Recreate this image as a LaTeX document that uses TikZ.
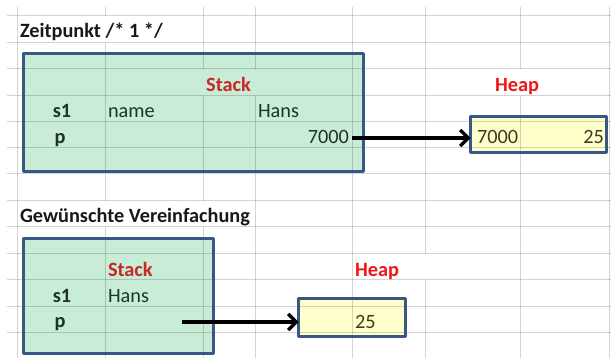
\documentclass[tikz,border=0pt]{standalone}
\usepackage{fontspec}
\setmainfont{Carlito}
\usetikzlibrary{arrows.meta}
\definecolor{gfill}{RGB}{200,236,214}
\definecolor{yfill}{RGB}{255,255,204}
\definecolor{bord}{RGB}{56,87,135}
\definecolor{redA}{RGB}{200,40,40}
\definecolor{redB}{RGB}{238,22,22}
\definecolor{gtext}{RGB}{30,52,40}
\definecolor{ytext}{RGB}{60,60,28}
\newcommand{\cellfont}{\fontsize{20.3}{24}\selectfont}
\tikzset{
  x=1pt, y=-1pt,
  every node/.style={inner sep=0pt, outer sep=0pt, font=\cellfont},
  boxfill/.style={fill=#1, draw=none, minimum width=\bw, minimum height=\bh},
  gridl/.style={black, opacity=0.17, line width=1pt},
  border/.style={draw=bord, line width=3pt, line join=round},
  title/.style={font=\cellfont\bfseries, text=black!90, anchor=base west},
  redtitleA/.style={font=\cellfont\bfseries, text=redA, anchor=base},
  redtitleB/.style={font=\cellfont\bfseries, text=redB, anchor=base},
  cell/.style={text=gtext, anchor=base west},
  hcell/.style={text=ytext, anchor=base west},
  bcell/.style={font=\cellfont\bfseries, text=gtext, anchor=base},
  arr/.style={line width=3.3pt, -{Straight Barb[length=8pt, width=16pt, line width=3.3pt]}},
}
\newlength{\bw}\newlength{\bh}
\begin{document}
\begin{tikzpicture}
\useasboundingbox[fill=white] (0,0) rectangle (611,358);
% box fills
\setlength{\bw}{340pt}\setlength{\bh}{118pt}
\node[boxfill=gfill] (stack1) at (193.5,112.5) {};
\setlength{\bw}{136pt}\setlength{\bh}{36pt}
\node[boxfill=yfill] (heap1) at (538.5,134.5) {};
\setlength{\bw}{190pt}\setlength{\bh}{115pt}
\node[boxfill=gfill] (stack2) at (118.5,296) {};
\setlength{\bw}{107pt}\setlength{\bh}{38pt}
\node[boxfill=yfill] (heap2) at (352,317.5) {};
% grid
\foreach \y in {16,43,69,96,122,148,174,201,227,254,280,307,333}
  \draw[gridl] (7,\y) -- (611,\y);
\foreach \x/\a/\b in {17/7/358, 105/7/16, 105/43/201, 105/227/358,
  203/7/69, 203/96/201, 203/227/358, 255/7/69, 255/96/358, 352/7/358,
  425/7/254, 425/280/358, 520/7/69, 520/96/358, 609/7/358}
  \draw[gridl] (\x,\a) -- (\x,\b);
% borders
\draw[border] (stack1.north west) rectangle (stack1.south east);
\draw[border] (heap1.north west) rectangle (heap1.south east);
\draw[border] (stack2.north west) rectangle (stack2.south east);
\draw[border] (heap2.north west) rectangle (heap2.south east);
% texts top
\node[title] (t1) at (20,38) {Zeitpunkt /* 1 */};
\node[redtitleA] (st1) at (228.5,92) {Stack};
\node[redtitleB] (hp1) at (517,92) {Heap};
\node[bcell] (s1a) at (62,118) {s1};
\node[cell] (name) at (108,118) {name};
\node[cell] (hans1) at (258,118) {Hans};
\node[bcell] (p1) at (60,144) {p};
\node[cell, anchor=base east] (v7000) at (349,144) {7000};
\node[hcell] (h7000) at (477,144) {7000};
\node[hcell, anchor=base east] (h25a) at (604,144) {25};
% texts bottom
\node[title] (t2) at (20,223) {Gewünschte Vereinfachung};
\node[redtitleA, anchor=base west] (st2) at (108,277) {Stack};
\node[redtitleB, anchor=base west] (hp2) at (355,277) {Heap};
\node[bcell] (s1b) at (62,303) {s1};
\node[cell] (hans2) at (108,303) {Hans};
\node[bcell] (p2) at (60,328) {p};
\node[hcell] (h25b) at (355,329) {25};
% arrows
\coordinate (a1) at ([xshift=3pt, yshift=6pt]v7000.base east);
\draw[arr] (a1) -- (a1 -| heap1.west);
\coordinate (a2) at (182,322);
\draw[arr] (a2) -- (a2 -| heap2.west);
\end{tikzpicture}
\end{document}
